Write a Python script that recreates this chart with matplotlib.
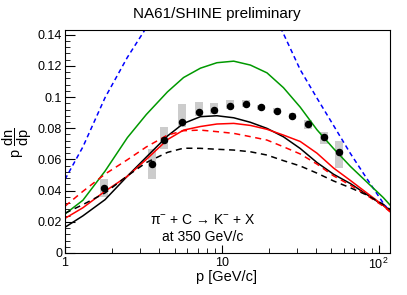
import matplotlib
matplotlib.use("Agg")
import matplotlib.pyplot as plt
import numpy as np
from matplotlib.ticker import MultipleLocator, LogLocator, FixedLocator, FixedFormatter, NullFormatter, FuncFormatter

plt.rcParams['font.family'] = ['Liberation Sans', 'DejaVu Sans']
plt.rcParams['mathtext.fontset'] = 'custom'
plt.rcParams['mathtext.rm'] = 'Liberation Sans'
plt.rcParams['mathtext.it'] = 'Liberation Sans:italic'

# measured points (NA61/SHINE preliminary)
p_data = [1.78, 3.59, 4.30, 5.55, 7.13, 8.97, 11.2, 14.2, 17.8, 22.4, 28.2, 35.6, 44.5, 56.1]
y_data = [0.0415, 0.0571, 0.0724, 0.0838, 0.0902, 0.0917, 0.0942, 0.0955, 0.0934, 0.0912,
          0.0878, 0.0825, 0.0741, 0.0645]
sys_lo = [0.0361, 0.0472, 0.0665, 0.0810, 0.0878, 0.0894, 0.0921, 0.0934, 0.0917, 0.0897,
          0.0859, 0.0795, 0.0699, 0.0543]
sys_hi = [0.0472, 0.0665, 0.0808, 0.0955, 0.0970, 0.0962, 0.0981, 0.0981, 0.0949, 0.0929,
          0.0897, 0.0853, 0.0778, 0.0720]

# model curves
p_grid = [1, 1.3, 1.8, 2.5, 3.3, 4.5, 5.7, 7.3, 9.3, 11.9, 15.2, 19.4, 24.7, 31.6, 40.4,
          51.5, 66, 84, 107, 118]
blue_dash = [0.0472, 0.0680, 0.0996, 0.1255, 0.1445, 0.166, 0.180, 0.190, 0.195, 0.192,
             0.180, 0.162, 0.1406, 0.1175, 0.0993, 0.0818, 0.0638, 0.0477, 0.0319, 0.0265]
green = [0.0250, 0.0338, 0.0525, 0.0740, 0.0888, 0.1033, 0.1125, 0.1185, 0.1220, 0.1230,
         0.1205, 0.1155, 0.1060, 0.0935, 0.0790, 0.0670, 0.0555, 0.0455, 0.0355, 0.0308]
black = [0.0165, 0.0238, 0.0342, 0.0493, 0.0615, 0.0750, 0.0831, 0.0874, 0.0880, 0.0867,
         0.0838, 0.0799, 0.0745, 0.0670, 0.0580, 0.0505, 0.0445, 0.0375, 0.0305, 0.0272]
red = [0.0222, 0.0290, 0.0396, 0.0492, 0.0600, 0.0727, 0.0788, 0.0811, 0.0827, 0.0831,
       0.0818, 0.0793, 0.0756, 0.0715, 0.0640, 0.0545, 0.0465, 0.0385, 0.0305, 0.0265]
red_dash = [0.0300, 0.0395, 0.0506, 0.0598, 0.0680, 0.0756, 0.0784, 0.0788, 0.0778, 0.0767,
            0.0746, 0.0724, 0.0681, 0.0635, 0.0570, 0.0495, 0.0435, 0.0370, 0.0300, 0.0265]
black_dash = [0.0255, 0.0310, 0.0385, 0.0495, 0.0580, 0.0645, 0.0672, 0.0671, 0.0665, 0.0660,
              0.0649, 0.0628, 0.0592, 0.0558, 0.0512, 0.0462, 0.0418, 0.0372, 0.0312, 0.0280]

fig = plt.figure(figsize=(4.07, 2.95), dpi=100)
ax = fig.add_axes([0.1597, 0.1424, 0.7985, 0.7576])

# systematic error boxes
for p, lo, hi in zip(p_data, sys_lo, sys_hi):
    ax.fill_between([p / 1.06, p * 1.06], lo, hi, color='#cccccc', lw=0, zorder=1)

ax.plot(p_grid, blue_dash, color='#0000ff', lw=1.1, dashes=(3, 2.2), zorder=2)
ax.plot(p_grid, green, color='#009900', lw=1.1, zorder=2)
ax.plot(p_grid, black, color='black', lw=1.1, zorder=2)
ax.plot(p_grid, red, color='#ff0000', lw=1.1, zorder=2)
ax.plot(p_grid, red_dash, color='#ff0000', lw=1.1, dashes=(4, 3), zorder=2)
ax.plot(p_grid, black_dash, color='black', lw=1.1, dashes=(4, 3), zorder=2)

ax.plot(p_data, y_data, 'o', color='black', ms=4.4, zorder=3)

ax.set_xscale('log')
ax.set_xlim(1, 118)
ax.set_ylim(0, 0.1433)

ax.xaxis.set_major_locator(FixedLocator([1, 10, 100]))
ax.xaxis.set_major_formatter(FixedFormatter(['1', '10', r'$10^{2}$']))
ax.xaxis.set_minor_locator(LogLocator(base=10, subs=np.arange(2, 10)))
ax.xaxis.set_minor_formatter(NullFormatter())
ax.yaxis.set_major_locator(MultipleLocator(0.02))
ax.yaxis.set_minor_locator(MultipleLocator(0.004))
ax.yaxis.set_major_formatter(FuncFormatter(lambda v, pos: '%g' % round(v, 3)))

ax.tick_params(which='both', direction='in', top=False, right=False, labelsize=9)
ax.tick_params(axis='y', which='major', length=7, pad=2)
ax.tick_params(axis='y', which='minor', length=3.5)
ax.tick_params(axis='x', which='major', length=6, pad=3)
ax.tick_params(axis='x', which='minor', length=3.5)
for s in ax.spines.values():
    s.set_linewidth(0.8)

ax.text(0.4246, 0.1477, 'π$^{-}$ + C → K$^{-}$ + X', transform=ax.transAxes,
        ha='center', va='center', fontsize=10)
ax.text(0.4246, 0.0716, 'at 350 GeV/c', transform=ax.transAxes,
        ha='center', va='center', fontsize=10)

fig.text(0.533, 0.9525, 'NA61/SHINE preliminary', ha='center', va='center', fontsize=11)
fig.text(227 / 407, 1 - 277 / 295, 'p [GeV/c]', ha='center', va='center', fontsize=10.5)
fig.text(17 / 407, 1 - 143 / 295, r'$\mathrm{p}\ \dfrac{\mathrm{dn}}{\mathrm{dp}}$', rotation=90,
         ha='center', va='center', fontsize=10.5)

fig.savefig('out.png', dpi=100)
